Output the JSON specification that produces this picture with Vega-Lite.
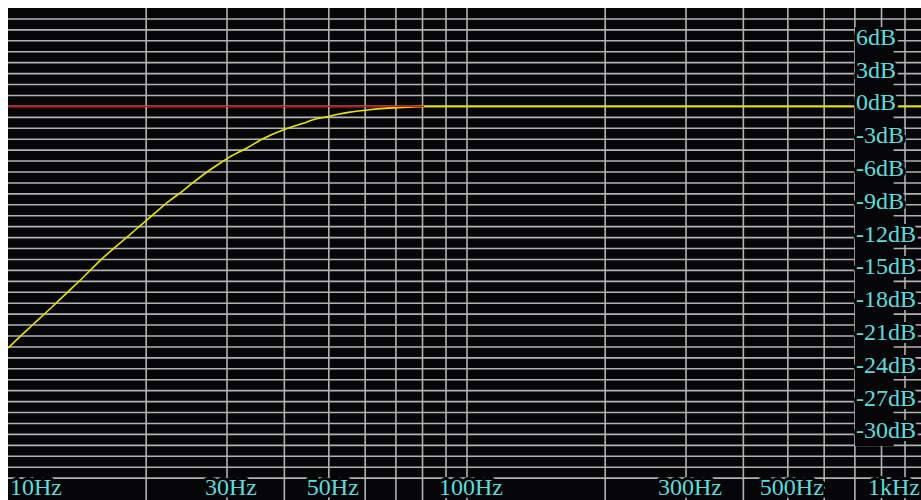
{
  "$schema": "https://vega.github.io/schema/vega-lite/v6.json",
  "width": 913,
  "height": 492,
  "autosize": {"type": "none"},
  "padding": {"left": 8, "top": 8, "right": 0, "bottom": 0},
  "background": "#ffffff",
  "config": {"view": {"fill": "#060608", "stroke": null}},
  "datasets": {
    "hgrid": [
      {"db": 8}, {"db": 7}, {"db": 6}, {"db": 5}, {"db": 4}, {"db": 3}, {"db": 2}, {"db": 1}, {"db": 0},
      {"db": -1}, {"db": -2}, {"db": -3}, {"db": -4}, {"db": -5}, {"db": -6}, {"db": -7}, {"db": -8}, {"db": -9},
      {"db": -10}, {"db": -11}, {"db": -12}, {"db": -13}, {"db": -14}, {"db": -15}, {"db": -16}, {"db": -17},
      {"db": -18}, {"db": -19}, {"db": -20}, {"db": -21}, {"db": -22}, {"db": -23}, {"db": -24}, {"db": -25},
      {"db": -26}, {"db": -27}, {"db": -28}, {"db": -29}, {"db": -30}, {"db": -31}, {"db": -32}, {"db": -33}, {"db": -34}
    ],
    "vgrid": [
      {"hz": 20}, {"hz": 30}, {"hz": 40}, {"hz": 50}, {"hz": 60}, {"hz": 70}, {"hz": 80}, {"hz": 90}, {"hz": 100},
      {"hz": 200}, {"hz": 300}, {"hz": 400}, {"hz": 500}, {"hz": 600}, {"hz": 700}, {"hz": 800}, {"hz": 900}
    ],
    "response": [
      {"hz": 10.0, "db": -22.1}, {"hz": 10.62, "db": -21.05}, {"hz": 11.34, "db": -19.95}, {"hz": 12.47, "db": -18.35},
      {"hz": 13.44, "db": -17.05}, {"hz": 14.57, "db": -15.65}, {"hz": 15.87, "db": -14.1}, {"hz": 18.17, "db": -11.95},
      {"hz": 19.68, "db": -10.7}, {"hz": 21.23, "db": -9.5}, {"hz": 22.54, "db": -8.6}, {"hz": 23.93, "db": -7.8},
      {"hz": 25.17, "db": -7.05}, {"hz": 27.14, "db": -6.0}, {"hz": 28.96, "db": -5.2}, {"hz": 30.45, "db": -4.62},
      {"hz": 33.17, "db": -3.8}, {"hz": 35.76, "db": -3.0}, {"hz": 39.72, "db": -2.15}, {"hz": 42.62, "db": -1.72},
      {"hz": 44.82, "db": -1.42}, {"hz": 46.19, "db": -1.22}, {"hz": 49.54, "db": -0.95}, {"hz": 52.36, "db": -0.72},
      {"hz": 55.59, "db": -0.52}, {"hz": 60.55, "db": -0.33}, {"hz": 67.28, "db": -0.16}, {"hz": 74.0, "db": -0.07},
      {"hz": 80.6, "db": 0}, {"hz": 1000, "db": 0}
    ],
    "flat": [{"hz": 10, "db": 0}, {"hz": 80.6, "db": 0}],
    "ylabels": [
      {"db": 6, "label": "6dB"}, {"db": 3, "label": "3dB"}, {"db": 0, "label": "0dB"}, {"db": -3, "label": "-3dB"},
      {"db": -6, "label": "-6dB"}, {"db": -9, "label": "-9dB"}, {"db": -12, "label": "-12dB"}, {"db": -15, "label": "-15dB"},
      {"db": -18, "label": "-18dB"}, {"db": -21, "label": "-21dB"}, {"db": -24, "label": "-24dB"}, {"db": -27, "label": "-27dB"},
      {"db": -30, "label": "-30dB"}
    ],
    "xlabels": [
      {"hz": 10, "label": "10Hz"}, {"hz": 30, "label": "30Hz"}, {"hz": 50, "label": "50Hz"}, {"hz": 100, "label": "100Hz"},
      {"hz": 300, "label": "300Hz"}, {"hz": 500, "label": "500Hz"}, {"hz": 1000, "label": "1kHz"}
    ]
  },
  "layer": [
    {
      "data": {"name": "hgrid"},
      "mark": {"type": "rule", "color": "#b2b2b2", "strokeWidth": 1.6},
      "encoding": {
        "y": {"field": "db", "type": "quantitative", "scale": {"domain": [-36, 9], "nice": false, "zero": false}, "axis": null}
      }
    },
    {
      "data": {"name": "vgrid"},
      "mark": {"type": "rule", "color": "#b2b2b2", "strokeWidth": 1.6},
      "encoding": {
        "x": {"field": "hz", "type": "quantitative", "scale": {"type": "log", "domain": [10, 975.2], "nice": false, "clamp": true}, "axis": null}
      }
    },
    {
      "data": {"name": "response"},
      "mark": {"type": "line", "color": "#e6e600", "strokeWidth": 1.6, "clip": true, "interpolate": "monotone"},
      "encoding": {
        "x": {"field": "hz", "type": "quantitative"},
        "y": {"field": "db", "type": "quantitative"}
      }
    },
    {
      "data": {"name": "flat"},
      "mark": {"type": "line", "color": "#ee0000", "strokeWidth": 1.4, "clip": true},
      "encoding": {
        "x": {"field": "hz", "type": "quantitative"},
        "y": {"field": "db", "type": "quantitative"}
      }
    },
    {
      "data": {"values": [{}]},
      "mark": {"type": "rect", "color": "#060608"},
      "encoding": {
        "x": {"datum": 700, "type": "quantitative"},
        "x2": {"datum": 850},
        "y": {"datum": 7.26, "type": "quantitative"},
        "y2": {"datum": -31.06}
      }
    },
    {
      "data": {"name": "ylabels"},
      "layer": [
        {
          "mark": {"type": "text", "align": "left", "baseline": "alphabetic", "dx": 1, "dy": 4, "font": "Liberation Serif", "fontSize": 24, "fill": "#060608", "stroke": "#060608", "strokeWidth": 6, "strokeJoin": "round"},
          "encoding": {
            "x": {"datum": 700, "type": "quantitative"},
            "y": {"field": "db", "type": "quantitative"},
            "text": {"field": "label"}
          }
        },
        {
          "mark": {"type": "text", "align": "left", "baseline": "alphabetic", "dx": 1, "dy": 4, "font": "Liberation Serif", "fontSize": 24, "fill": "#5cdcdc"},
          "encoding": {
            "x": {"datum": 700, "type": "quantitative"},
            "y": {"field": "db", "type": "quantitative"},
            "text": {"field": "label"}
          }
        }
      ]
    },
    {
      "data": {"name": "xlabels"},
      "transform": [{"filter": "datum.label == '10Hz'"}],
      "layer": [
        {
          "mark": {"type": "text", "align": "left", "baseline": "bottom", "dx": 2, "font": "Liberation Serif", "fontSize": 24, "fill": "#060608", "stroke": "#060608", "strokeWidth": 6, "strokeJoin": "round"},
          "encoding": {"x": {"field": "hz", "type": "quantitative"}, "y": {"datum": -36, "type": "quantitative"}, "text": {"field": "label"}}
        },
        {
          "mark": {"type": "text", "align": "left", "baseline": "bottom", "dx": 2, "font": "Liberation Serif", "fontSize": 24, "fill": "#5cdcdc"},
          "encoding": {"x": {"field": "hz", "type": "quantitative"}, "y": {"datum": -36, "type": "quantitative"}, "text": {"field": "label"}}
        }
      ]
    },
    {
      "data": {"name": "xlabels"},
      "transform": [{"filter": "datum.label != '10Hz' && datum.label != '1kHz'"}],
      "layer": [
        {
          "mark": {"type": "text", "align": "center", "baseline": "bottom", "dx": 4, "font": "Liberation Serif", "fontSize": 24, "fill": "#060608", "stroke": "#060608", "strokeWidth": 6, "strokeJoin": "round"},
          "encoding": {"x": {"field": "hz", "type": "quantitative"}, "y": {"datum": -36, "type": "quantitative"}, "text": {"field": "label"}}
        },
        {
          "mark": {"type": "text", "align": "center", "baseline": "bottom", "dx": 4, "font": "Liberation Serif", "fontSize": 24, "fill": "#5cdcdc"},
          "encoding": {"x": {"field": "hz", "type": "quantitative"}, "y": {"datum": -36, "type": "quantitative"}, "text": {"field": "label"}}
        }
      ]
    },
    {
      "data": {"name": "xlabels"},
      "transform": [{"filter": "datum.label == '1kHz'"}],
      "layer": [
        {
          "mark": {"type": "text", "align": "right", "baseline": "bottom", "dx": -1, "font": "Liberation Serif", "fontSize": 24, "fill": "#060608", "stroke": "#060608", "strokeWidth": 6, "strokeJoin": "round"},
          "encoding": {"x": {"field": "hz", "type": "quantitative"}, "y": {"datum": -36, "type": "quantitative"}, "text": {"field": "label"}}
        },
        {
          "mark": {"type": "text", "align": "right", "baseline": "bottom", "dx": -1, "font": "Liberation Serif", "fontSize": 24, "fill": "#5cdcdc"},
          "encoding": {"x": {"field": "hz", "type": "quantitative"}, "y": {"datum": -36, "type": "quantitative"}, "text": {"field": "label"}}
        }
      ]
    }
  ]
}
